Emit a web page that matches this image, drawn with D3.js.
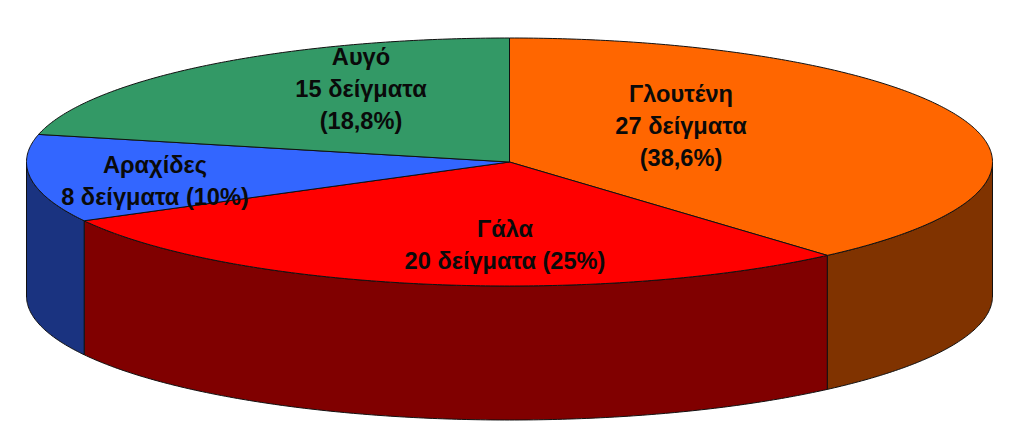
<!DOCTYPE html>
<html><head><meta charset="utf-8">
<script src="https://cdn.jsdelivr.net/npm/d3@7"></script>
<style>html,body{margin:0;padding:0;background:#fff}svg{display:block}</style>
</head><body><svg id="c" width="1024" height="438"></svg>
<script>
const categories = ["Γλουτένη","Γάλα","Αραχίδες","Αυγό"];
const samples = [27,20,8,15];
const topColors = ["#ff6600","#ff0000","#3366ff","#339966"];
const sideColors = ["#803300","#800000","#1a3380","#1a4d33"];
const labelLines = [
  ["Γλουτένη","27 δείγματα","(38,6%)"],
  ["Γάλα","20 δείγματα (25%)"],
  ["Αραχίδες","8 δείγματα (10%)"],
  ["Αυγό","15 δείγματα","(18,8%)"]
];
const labelX = [681,505,155,361];
const labelY = [102,237,173,65];

const W=1024,H=438,cx=509.5,cy=162,rx=483,ry=124,depth=134;
const svg=d3.select("#c");
const x=d3.scaleLinear().domain([-1,1]).range([cx-rx,cx+rx]);
const y=d3.scaleLinear().domain([-1,1]).range([cy-ry,cy+ry]);
const arcs=d3.pie().sort(null).startAngle(0).endAngle(2*Math.PI)(samples);
const px=a=>x(Math.sin(a)), py=a=>y(-Math.cos(a));
const line=d3.line();
const stroke="#111", sw=1;

function wallPath(a0,a1){
  const n=Math.max(2,Math.ceil((a1-a0)/0.01));
  const as=d3.range(n+1).map(i=>a0+(a1-a0)*i/n);
  const up=as.map(a=>[px(a),py(a)]);
  const down=as.slice().reverse().map(a=>[px(a),py(a)+depth]);
  return line(up.concat(down))+"Z";
}
function topPath(a0,a1){
  const n=Math.max(2,Math.ceil((a1-a0)/0.01));
  const pts=[[cx,cy]].concat(d3.range(n+1).map(i=>{const a=a0+(a1-a0)*i/n;return [px(a),py(a)];}));
  return line(pts)+"Z";
}
const walls=svg.append("g");
arcs.forEach((d,i)=>{
  const a0=Math.max(d.startAngle,Math.PI/2),a1=Math.min(d.endAngle,3*Math.PI/2);
  if(a1>a0) walls.append("path").attr("d",wallPath(a0,a1))
    .attr("fill",sideColors[i]).attr("stroke",stroke).attr("stroke-width",sw).attr("stroke-linejoin","round");
});
svg.append("g").selectAll("path").data(arcs).join("path")
  .attr("d",d=>topPath(d.startAngle,d.endAngle))
  .attr("fill",(d,i)=>topColors[i]).attr("stroke",stroke).attr("stroke-width",sw).attr("stroke-linejoin","round");
const labels=svg.append("g").attr("font-family","'Liberation Sans',Arial,sans-serif")
  .attr("font-weight","bold").attr("font-size",23.6).attr("fill","#0a0a0a").attr("text-anchor","middle");
labelLines.forEach((ls,i)=>{
  ls.forEach((t,j)=>labels.append("text").attr("x",labelX[i]).attr("y",labelY[i]+j*32).text(t));
});
</script></body></html>
